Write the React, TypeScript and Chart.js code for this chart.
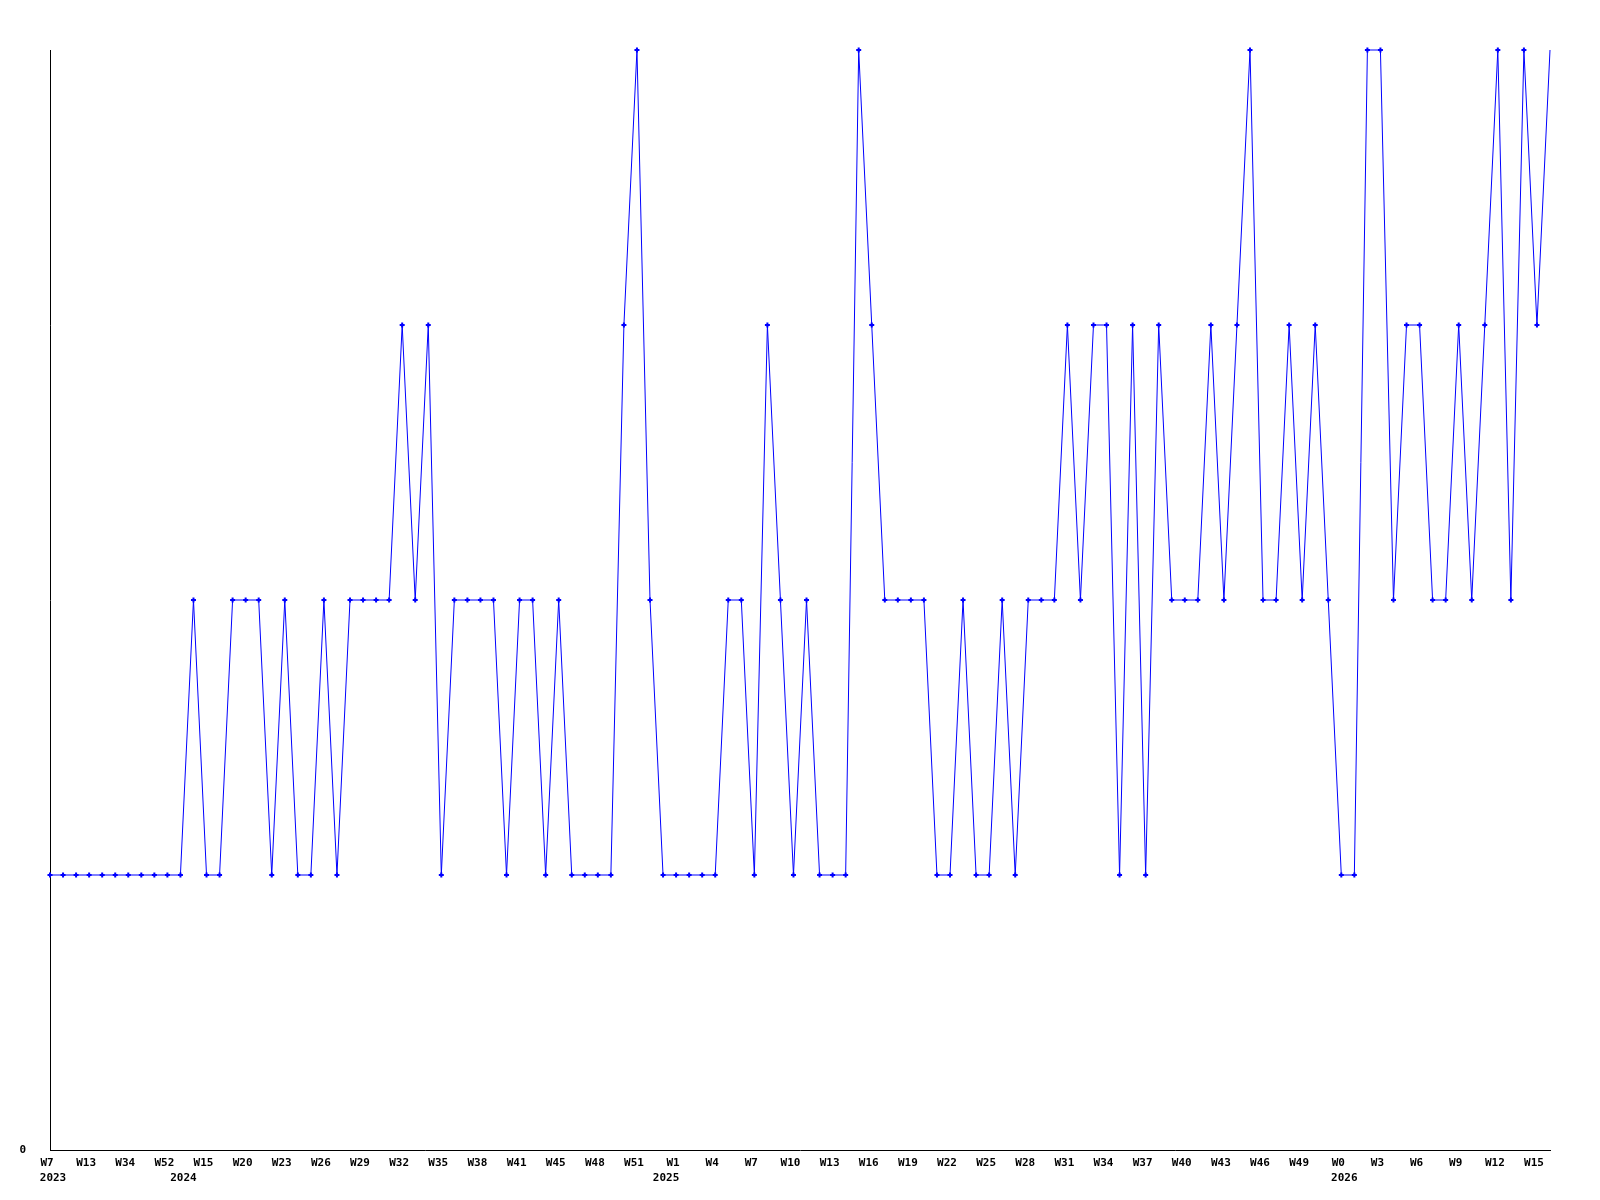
import React, { useEffect, useRef } from "react";
import { Chart, registerables } from "chart.js";

Chart.register(...registerables);

const values: number[] = [
  1, 1, 1, 1, 1, 1, 1, 1, 1, 1,
  1, 2, 1, 1, 2, 2, 2, 1, 2, 1,
  1, 2, 1, 2, 2, 2, 2, 3, 2, 3,
  1, 2, 2, 2, 2, 1, 2, 2, 1, 2,
  1, 1, 1, 1, 3, 4, 2, 1, 1, 1,
  1, 1, 2, 2, 1, 3, 2, 1, 2, 1,
  1, 1, 4, 3, 2, 2, 2, 2, 1, 1,
  2, 1, 1, 2, 1, 2, 2, 2, 3, 2,
  3, 3, 1, 3, 1, 3, 2, 2, 2, 3,
  2, 3, 4, 2, 2, 3, 2, 3, 2, 1,
  1, 4, 4, 2, 3, 3, 2, 2, 3, 2,
  3, 4, 2, 4, 3, 4,
];

// Week labels shown on every third point
const weekTicks: string[] = [
  "W7", "W13", "W34", "W52", "W15", "W20", "W23", "W26", "W29", "W32",
  "W35", "W38", "W41", "W45", "W48", "W51", "W1", "W4", "W7", "W10",
  "W13", "W16", "W19", "W22", "W25", "W28", "W31", "W34", "W37", "W40",
  "W43", "W46", "W49", "W0", "W3", "W6", "W9", "W12", "W15",
];
const weekTickStep = 3;

const yearLabels: string[] = ["2023", "2024", "2025", "2026"];
const yearStartIndex: number[] = [0, 10, 47, 99];

const yTickLabels: string[] = ["0"];

export default function App() {
  const ref = useRef<HTMLCanvasElement | null>(null);

  useEffect(() => {
    if (!ref.current) return;
    const labels = values.map((_, i) => String(i));
    const weekFor = (i: number): string =>
      i % weekTickStep === 0 ? weekTicks[i / weekTickStep] || "" : "";
    const yearFor = (i: number): string => {
      const yi = yearStartIndex.indexOf(i);
      return yi >= 0 ? yearLabels[yi] : "";
    };
    const font = { family: "'DejaVu Sans Mono', monospace", size: 11, weight: "bold" as const };
    const lastIndex = values.length - 1;
    const chart = new Chart(ref.current, {
      type: "line",
      data: {
        labels,
        datasets: [
          {
            data: values,
            xAxisID: "x",
            yAxisID: "y",
            borderColor: "#0000ff",
            backgroundColor: "#0000ff",
            borderWidth: 1,
            tension: 0,
            fill: false,
            clip: false,
            pointStyle: "cross",
            pointRadius: (ctx: any) => (ctx.dataIndex === lastIndex ? 0 : 2.5),
            pointBorderWidth: 2,
            pointBorderColor: "#0000ff",
            pointHoverRadius: 2.5,
          },
        ],
      },
      options: {
        responsive: false,
        animation: false,
        layout: { padding: { top: 50, right: 50, left: 0, bottom: 0 } },
        plugins: {
          legend: { display: false },
          tooltip: { enabled: false },
          title: { display: false },
        },
        scales: {
          x: {
            type: "category",
            position: "bottom",
            weight: 0,
            offset: false,
            grid: { display: false, drawTicks: false },
            border: { display: true, color: "#000000", width: 1 },
            ticks: {
              autoSkip: false,
              maxRotation: 0,
              minRotation: 0,
              padding: 7,
              labelOffset: -3,
              color: "#000000",
              font,
              callback: (_v: any, i: number) => weekFor(i),
            },
            afterFit: (scale: any) => {
              scale.height = 20;
            },
          },
          x2: {
            type: "category",
            position: "bottom",
            weight: 1,
            offset: false,
            grid: { display: false, drawTicks: false },
            border: { display: false },
            ticks: {
              autoSkip: false,
              maxRotation: 0,
              minRotation: 0,
              padding: 2,
              labelOffset: 3,
              color: "#000000",
              font,
              callback: (_v: any, i: number) => yearFor(i),
            },
            afterFit: (scale: any) => {
              scale.height = 30;
            },
          },
          y: {
            min: 0,
            max: 4,
            grid: { display: false, drawTicks: false },
            border: { display: true, color: "#000000", width: 1 },
            ticks: {
              stepSize: 1,
              padding: 24,
              color: "#000000",
              font,
              callback: (v: any) => (Number(v) === 0 ? yTickLabels[0] : ""),
            },
            afterFit: (scale: any) => {
              scale.width = 50;
            },
          },
        },
      },
    });
    return () => chart.destroy();
  }, []);

  return (
    <div style={{ position: "fixed", left: 0, top: 0, width: 1600, height: 1200, background: "#ffffff" }}>
      <canvas ref={ref} width={1600} height={1200} style={{ display: "block", width: 1600, height: 1200 }} />
    </div>
  );
}
